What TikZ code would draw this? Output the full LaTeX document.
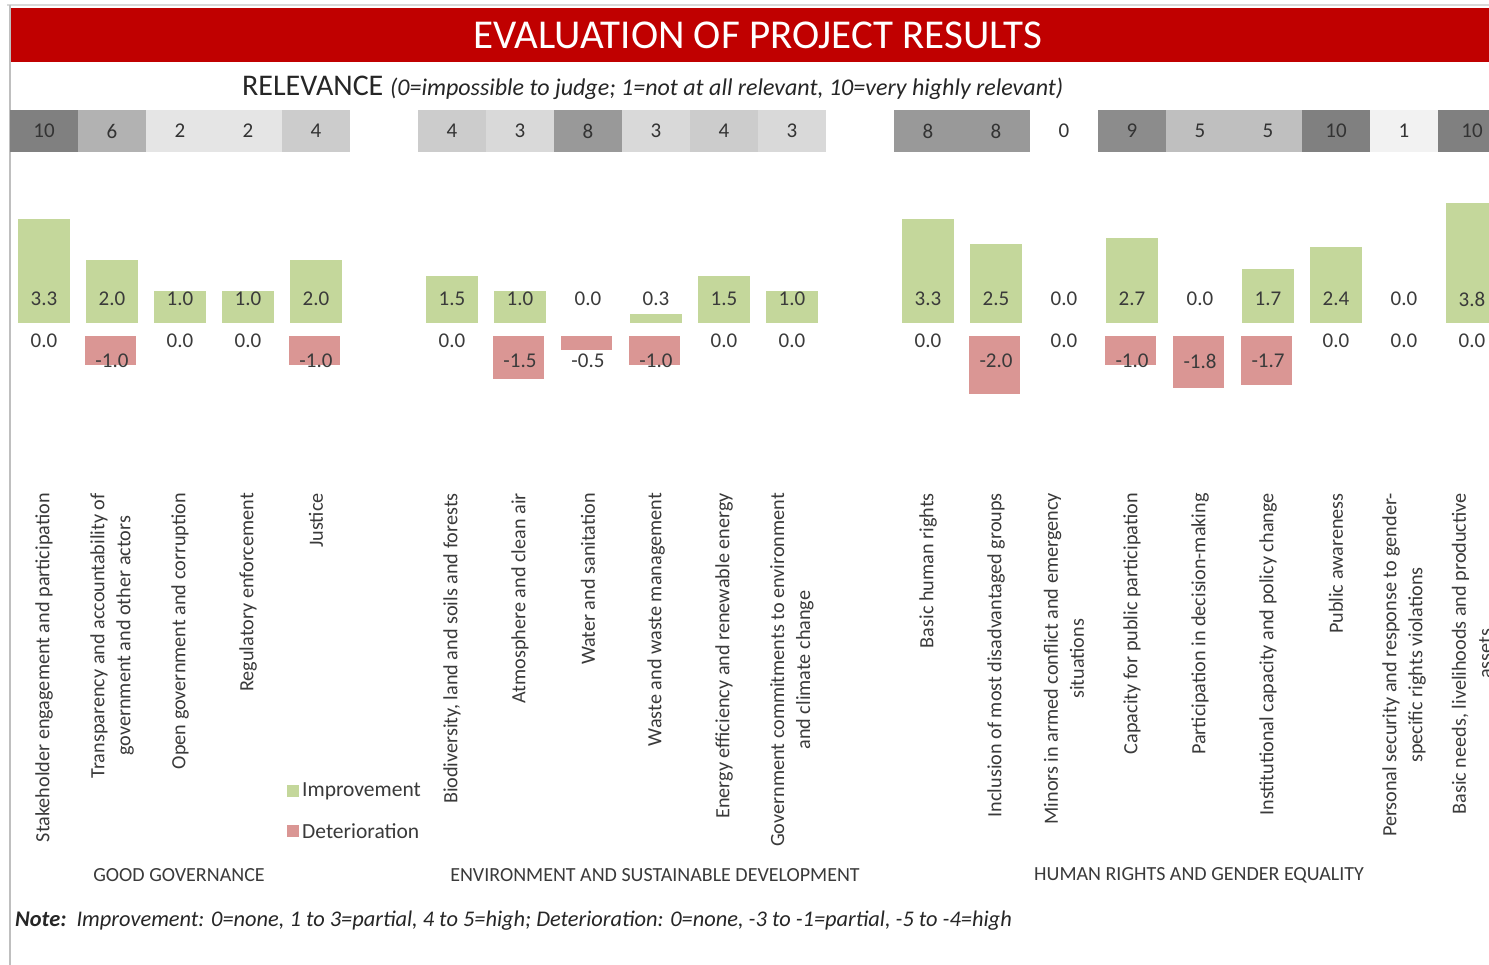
\documentclass[tikz,border=0pt]{standalone}
\usepackage{fontspec}
\setmainfont{Carlito}
\definecolor{bannerred}{HTML}{C00000}
\definecolor{impgreen}{HTML}{C4D79B}
\definecolor{detred}{HTML}{DA9694}
\definecolor{valtext}{HTML}{3A3A3A}
\definecolor{framegray}{HTML}{BFBFBF}
\begin{document}
\begin{tikzpicture}[x=1pt,y=-1pt]
  \tikzstyle{cell}=[minimum width=68pt,minimum height=42pt,inner sep=0pt,text=black!80,font=\fontsize{21}{24}\selectfont]
  \tikzstyle{val}=[inner sep=0pt,text=valtext,font=\fontsize{21}{24}\selectfont]
  \tikzstyle{cat}=[rotate=90,anchor=east,align=center,inner sep=0pt,text=valtext,font=\fontsize{20.2}{26}\selectfont]
  \tikzstyle{group}=[inner sep=0pt,text=valtext,font=\fontsize{20}{22}\selectfont]
  \tikzstyle{legend}=[anchor=west,inner sep=0pt,text=valtext,font=\fontsize{21.5}{24}\selectfont]
  \clip (0,0) rectangle (1489,965);
  \path[fill=white] (0,0) rectangle (1489,965);
  \path[draw=framegray!60,line width=1.5pt] (7,5) -- (1489,5);
  \path[draw=framegray,line width=1.5pt] (10,5) -- (10,965);
  \path[fill=bannerred] (11,8) rectangle (1489,62);
  \node[text=white,font=\fontsize{41}{44}\selectfont] (title) at (758,35) {EVALUATION OF PROJECT RESULTS};
  \node[anchor=west,inner sep=0pt,text=black!85,font=\fontsize{30}{32}\selectfont] (relevance) at (242,88)
    {RELEVANCE {\fontsize{24}{26}\selectfont\itshape (0=impossible to judge; 1=not at all relevant, 10=very highly relevant)}};
  % columns: index/relevance/improvement/deterioration/label
  \foreach \i/\r/\p/\n/\lab in {
      0/10/3.3/0.0/{Stakeholder engagement and participation},
      1/6/2.0/-1.0/{Transparency and accountability of\\government and other actors},
      2/2/1.0/0.0/{Open government and corruption},
      3/2/1.0/0.0/{Regulatory enforcement},
      4/4/2.0/-1.0/{Justice},
      6/4/1.5/0.0/{Biodiversity, land and soils and forests},
      7/3/1.0/-1.5/{Atmosphere and clean air},
      8/8/0.0/-0.5/{Water and sanitation},
      9/3/0.3/-1.0/{Waste and waste management},
      10/4/1.5/0.0/{Energy efficiency and renewable energy},
      11/3/1.0/0.0/{Government commitments to environment\\and climate change},
      13/8/3.3/0.0/{Basic human rights},
      14/8/2.5/-2.0/{Inclusion of most disadvantaged groups},
      15/0/0.0/0.0/{Minors in armed conflict and emergency\\situations},
      16/9/2.7/-1.0/{Capacity for public participation},
      17/5/0.0/-1.8/{Participation in decision-making},
      18/5/1.7/-1.7/{Institutional capacity and policy change},
      19/10/2.4/0.0/{Public awareness},
      20/1/0.0/0.0/{Personal security and response to gender-\\specific rights violations},
      21/10/3.8/0.0/{Basic needs, livelihoods and productive\\assets}} {
    \pgfmathsetmacro\cx{44+68*\i}
    \pgfmathtruncatemacro\g{5*\r}
    \node[cell,fill=black!\g] (rel\i) at (\cx,131) {\r};
    \ifdim\p pt>0pt
      \pgfmathsetmacro\ytop{323-31.5*\p}
      \path[fill=impgreen] (\cx-26,323) rectangle (\cx+26,\ytop);
    \fi
    \node[val] (imp\i) at (\cx,299) {\p};
    \ifdim\n pt<0pt
      \pgfmathsetmacro\ybot{336-29*\n}
      \path[fill=detred] (\cx-27,336) rectangle (\cx+24,\ybot);
      \node[val] (det\i) at (\cx,361) {\n};
    \else
      \node[val] (det\i) at (\cx,341) {\n};
    \fi
    \node[cat] (cat\i) at (\cx,493) {\lab};
  }
  % legend
  \path[fill=impgreen] (287,785) rectangle (299,797);
  \node[legend] (legimp) at (302,791) {Improvement};
  \path[fill=detred] (287,825) rectangle (299,837);
  \node[legend] (legdet) at (302,831) {Deterioration};
  % groups and note
  \node[group] (gg) at (179,875) {GOOD GOVERNANCE};
  \node[group] (env) at (655,875) {ENVIRONMENT AND SUSTAINABLE DEVELOPMENT};
  \node[group] (hr) at (1199,875) {HUMAN RIGHTS AND GENDER EQUALITY};
  \node[anchor=west,inner sep=0pt,text=black!85,font=\fontsize{22.4}{26}\selectfont\itshape] (note) at (15,921)
    {\textbf{Note:}\ \ Improvement: 0=none, 1 to 3=partial, 4 to 5=high; Deterioration: 0=none, -3 to -1=partial, -5 to -4=high};
\end{tikzpicture}
\end{document}
